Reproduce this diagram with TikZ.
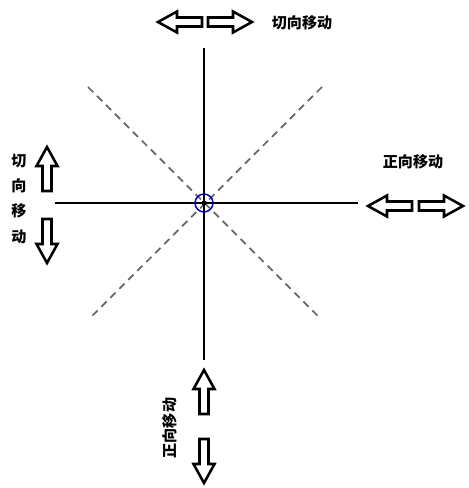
\documentclass[tikz,border=0pt]{standalone}
\usepackage{fontspec}
\newfontfamily\cjk{Noto Sans CJK SC}
\begin{document}
\begin{tikzpicture}[x=0.75pt,y=-0.75pt,
  axis/.style={black, line width=1.1pt},
  diag/.style={gray!80!black, line width=1.3pt, dash pattern=on 5.5pt off 4pt},
  lbl/.style={font=\cjk\bfseries\fontsize{11.3}{13}\selectfont, inner sep=0pt},
  blockarrow/.pic={\draw[black, line width=1.9pt, line join=miter, fill=white]
     (0,-4.5) -- (25,-4.5) -- (25,-10.5) -- (44,0) -- (25,10.5) -- (25,4.5) -- (0,4.5) -- cycle;}]
\useasboundingbox (0,0) rectangle (468,488);
\coordinate (c) at (204,203);
\coordinate (tl) at (88,87);
\coordinate (br) at (320,318);
\coordinate (tr) at (322,87);
\coordinate (bl) at (90,318);
\coordinate (top) at (204,48);
\coordinate (bot) at (204,360);
\coordinate (lft) at (55,203);
\coordinate (rgt) at (358,203);
\draw[diag] (tl) -- (br);
\draw[diag] (tr) -- (bl);
\draw[axis] (top) -- (bot);
\draw[axis] (lft) -- (rgt);
\node[circle, draw=blue!70!black, line width=1.1pt, minimum size=18*0.75pt, inner sep=0pt] (ring) at (c) {};
\node[circle, fill=black, minimum size=5*0.75pt, inner sep=0pt] (dot) at (c) {};
% top arrows
\pic at (202,22) [rotate=180] {blockarrow};
\pic at (208,22) {blockarrow};
\node[lbl] (ttop) at (302,23) {切向移动};
% right arrows
\pic at (412,206) [rotate=180] {blockarrow};
\pic at (419,206) {blockarrow};
\node[lbl] (trgt) at (413,162) {正向移动};
% left arrows
\pic at (47,191) [rotate=90] {blockarrow};
\pic at (47,219) [rotate=-90] {blockarrow};
\node[lbl] (l1) at (19,161) {切};
\node[lbl] (l2) at (19,186) {向};
\node[lbl] (l3) at (19,211) {移};
\node[lbl] (l4) at (19,237) {动};
% bottom arrows
\pic at (204,414) [rotate=90] {blockarrow};
\pic at (204,439) [rotate=-90] {blockarrow};
\node[lbl, rotate=90] (tbot) at (170,428) {正向移动};
\end{tikzpicture}
\end{document}
